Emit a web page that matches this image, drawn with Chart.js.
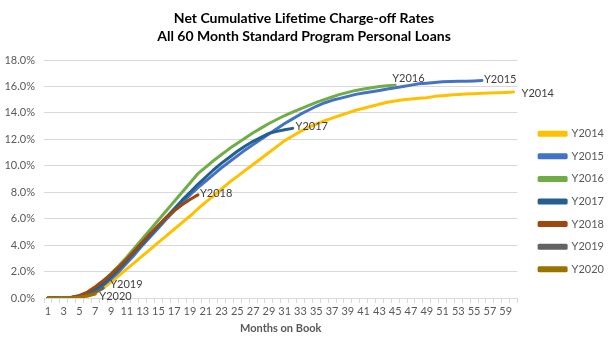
<!DOCTYPE html>
<html>
<head>
<meta charset="utf-8">
<script src="https://cdn.jsdelivr.net/npm/chart.js@4.4.0/dist/chart.umd.min.js"></script>
<style>
  html, body { margin: 0; padding: 0; background: #ffffff; }
  #wrap { width: 610px; height: 357px; position: relative; }
</style>
</head>
<body>
<div id="wrap"><canvas id="c" width="610" height="357"></canvas></div>
<script>
// ---- data ----
const titleLines = ['Net Cumulative Lifetime Charge-off Rates', 'All 60 Month Standard Program Personal Loans'];
const xTitle = 'Months on Book';
const months = [1,2,3,4,5,6,7,8,9,10,11,12,13,14,15,16,17,18,19,20,21,22,23,24,25,26,27,28,29,30,
                31,32,33,34,35,36,37,38,39,40,41,42,43,44,45,46,47,48,49,50,51,52,53,54,55,56,57,58,59,60];
const seriesNames = ['Y2014','Y2015','Y2016','Y2017','Y2018','Y2019','Y2020'];
const y2014 = [0,0,0,0.02,0.06,0.15,0.35,0.75,1.2,1.7,2.2,2.7,3.2,3.7,4.2,4.7,5.2,5.7,6.2,6.75,
               7.25,7.75,8.25,8.75,9.2,9.65,10.1,10.55,11.0,11.45,11.9,12.25,12.6,12.9,13.15,13.4,13.6,13.8,14.0,14.2,
               14.35,14.5,14.65,14.8,14.9,15.0,15.05,15.1,15.15,15.25,15.3,15.35,15.4,15.42,15.45,15.48,15.5,15.52,15.55,15.58];
const y2015 = [0,0,0.01,0.03,0.1,0.25,0.55,0.95,1.45,2.0,2.65,3.3,4.0,4.65,5.3,5.95,6.6,7.2,7.8,8.35,
               8.85,9.35,9.85,10.3,10.75,11.2,11.6,12.0,12.4,12.8,13.2,13.55,13.9,14.2,14.5,14.75,14.95,15.1,15.25,15.4,
               15.5,15.6,15.7,15.8,15.9,16.0,16.1,16.2,16.25,16.3,16.35,16.38,16.4,16.4,16.42,16.45];
const y2016 = [0,0,0.02,0.05,0.15,0.4,0.8,1.3,1.85,2.45,3.1,3.8,4.5,5.2,5.9,6.6,7.3,8.0,8.7,9.4,
               9.9,10.4,10.85,11.3,11.7,12.1,12.5,12.85,13.2,13.5,13.8,14.05,14.3,14.55,14.8,15.0,15.2,15.4,15.55,15.7,
               15.8,15.9,16.0,16.05,16.1];
const y2017 = [0,0,0.01,0.04,0.12,0.3,0.65,1.05,1.6,2.2,2.85,3.5,4.15,4.8,5.45,6.1,6.75,7.4,8.0,8.6,
               9.15,9.7,10.2,10.65,11.1,11.5,11.85,12.15,12.45,12.6,12.72,12.83];
const y2018 = [0,0,0.02,0.06,0.2,0.45,0.85,1.3,1.8,2.35,2.95,3.6,4.25,4.9,5.5,6.1,6.6,7.05,7.45,7.8];
const y2019 = [0,0,0.01,0.03,0.08,0.22,0.45,0.75];
const y2020 = [0,0,0.01,0.02,0.06,0.15,0.3];
const yTicks = [0,2,4,6,8,10,12,14,16,18];

// ---- styles ----
const colors = ['#FFC000','#4472C4','#70AD47','#255E91','#9E480E','#636363','#997300'];
const labelOffsets = {
  Y2014: [8, 1], Y2015: [2, -1.5], Y2016: [-3, -7], Y2017: [3, -2],
  Y2018: [2, -1], Y2019: [7, -4], Y2020: [4, 2]
};
const legendShift = { dx: 10, dy: 34 };
const FONT = 'Lato, "Open Sans", sans-serif';

const seriesData = [y2014, y2015, y2016, y2017, y2018, y2019, y2020];
const datasets = seriesNames.map((name, i) => ({
  label: name,
  data: seriesData[i],
  borderColor: colors[i],
  backgroundColor: colors[i],
  borderWidth: 3,
  pointRadius: 0,
  pointHoverRadius: 0,
  tension: 0,
  fill: false,
  borderCapStyle: 'round',
  borderJoinStyle: 'round',
  order: seriesNames.length - i
}));

const endLabels = {
  id: 'endLabels',
  afterDatasetsDraw(chart) {
    const ctx = chart.ctx;
    ctx.save();
    ctx.font = '11px ' + FONT;
    ctx.fillStyle = '#404040';
    ctx.textAlign = 'left';
    ctx.textBaseline = 'middle';
    chart.data.datasets.forEach((ds, i) => {
      const meta = chart.getDatasetMeta(i);
      const pts = meta.data;
      if (!pts.length) return;
      const p = pts[pts.length - 1];
      const off = labelOffsets[ds.label] || [4, 0];
      ctx.fillText(ds.label, p.x + off[0], p.y + off[1]);
    });
    ctx.restore();
  }
};

const moveLegend = {
  id: 'moveLegend',
  afterLayout(chart) {
    const lg = chart.legend;
    if (!lg) return;
    lg.left += legendShift.dx; lg.right += legendShift.dx;
    lg.top += legendShift.dy; lg.bottom += legendShift.dy;
  }
};

new Chart(document.getElementById('c'), {
  type: 'line',
  data: { labels: months, datasets: datasets },
  options: {
    responsive: false,
    animation: false,
    devicePixelRatio: 1,
    layout: { padding: { left: 4, right: 6, top: 0, bottom: 22 } },
    plugins: {
      title: {
        display: true,
        text: titleLines,
        color: '#000000',
        font: { family: FONT, size: 14, weight: 'bold', lineHeight: 1.3 },
        padding: { top: 9, bottom: 14.6 }
      },
      legend: {
        display: true,
        position: 'right',
        align: 'center',
        labels: {
          boxWidth: 27,
          boxHeight: 3,
          padding: 11.6,
          color: '#595959',
          font: { family: FONT, size: 11 },
          sort: (a, b) => a.datasetIndex - b.datasetIndex
        }
      },
      tooltip: { enabled: false }
    },
    scales: {
      x: {
        type: 'category',
        offset: true,
        grid: { display: true, drawOnChartArea: false, drawTicks: true, tickLength: 5, color: '#d9d9d9', offset: true },
        border: { display: true, color: '#d9d9d9' },
        ticks: {
          autoSkip: false,
          maxRotation: 0,
          minRotation: 0,
          padding: 2,
          color: '#595959',
          font: { family: FONT, size: 11 },
          callback: function(v, i) { return i % 2 === 0 ? String(months[i]) : ''; }
        },
        title: {
          display: true,
          text: xTitle,
          color: '#595959',
          font: { family: FONT, size: 11, weight: 'bold' },
          padding: { top: 0, bottom: 0 }
        },
        afterFit(scale) { scale.height = 37; }
      },
      y: {
        min: 0,
        max: 18,
        afterBuildTicks(scale) { scale.ticks = yTicks.map(v => ({ value: v })); },
        grid: { color: '#d9d9d9', drawTicks: false },
        border: { display: false },
        ticks: {
          padding: 9,
          color: '#595959',
          font: { family: FONT, size: 11 },
          callback: v => v.toFixed(1) + '%'
        },
        afterFit(scale) { scale.width = 40; }
      }
    }
  },
  plugins: [endLabels, moveLegend]
});
</script>
</body>
</html>
